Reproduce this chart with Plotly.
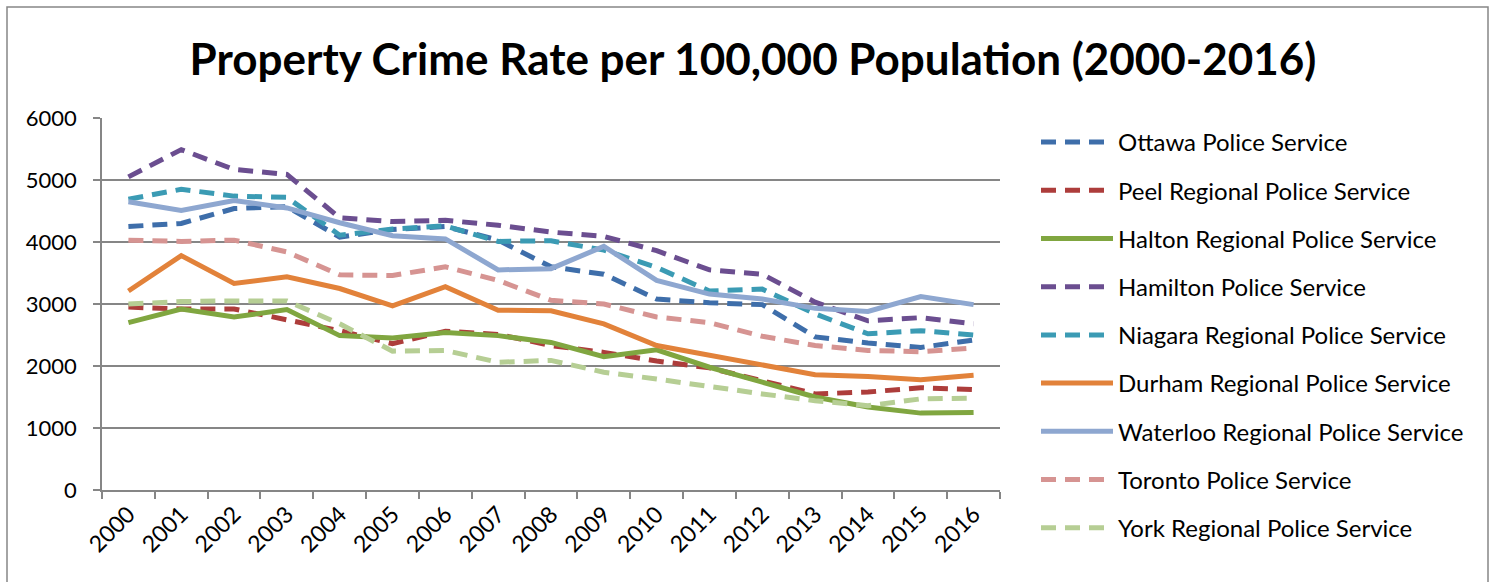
import plotly.graph_objects as go

years = [str(y) for y in range(2000, 2017)]

ottawa   = [4250, 4300, 4540, 4570, 4080, 4200, 4250, 4030, 3600, 3480, 3080, 3020, 2990, 2470, 2370, 2300, 2420]
peel     = [2950, 2920, 2920, 2740, 2570, 2360, 2560, 2510, 2330, 2220, 2080, 1970, 1770, 1550, 1580, 1650, 1620]
halton   = [2700, 2920, 2790, 2910, 2490, 2450, 2540, 2490, 2380, 2150, 2260, 1980, 1740, 1500, 1340, 1240, 1250]
hamilton = [5050, 5490, 5170, 5090, 4390, 4330, 4350, 4270, 4160, 4090, 3860, 3550, 3480, 3030, 2730, 2780, 2680]
niagara  = [4690, 4850, 4740, 4720, 4110, 4210, 4260, 4010, 4020, 3870, 3590, 3210, 3240, 2840, 2520, 2570, 2500]
durham   = [3210, 3780, 3330, 3440, 3250, 2970, 3280, 2900, 2890, 2680, 2330, 2170, 2010, 1860, 1830, 1780, 1850]
waterloo = [4650, 4510, 4670, 4550, 4310, 4100, 4050, 3550, 3570, 3930, 3380, 3160, 3080, 2930, 2880, 3120, 2990]
toronto  = [4030, 4010, 4030, 3840, 3470, 3460, 3600, 3380, 3060, 3000, 2790, 2700, 2480, 2330, 2250, 2230, 2290]
york     = [3000, 3040, 3050, 3050, 2680, 2240, 2250, 2060, 2090, 1900, 1790, 1660, 1550, 1440, 1360, 1470, 1480]

series_names = [
    "Ottawa Police Service", "Peel Regional Police Service", "Halton Regional Police Service",
    "Hamilton Police Service", "Niagara Regional Police Service", "Durham Regional Police Service",
    "Waterloo Regional Police Service", "Toronto Police Service", "York Regional Police Service",
]
series_values = [ottawa, peel, halton, hamilton, niagara, durham, waterloo, toronto, york]
colors = ["#3E6EAA", "#AD3D3B", "#80A640", "#6B4E90", "#3B9BB4", "#E2823A", "#8EA7D0", "#D69492", "#B6CE94"]
dashes = ["dash", "dash", "solid", "dash", "dash", "solid", "solid", "dash", "dash"]

FONT = "Lato"
W, H = 1495, 582
L, R, T, B = 102, 1000, 118, 490

fig = go.Figure()
for i, (name, vals, c, d) in enumerate(zip(series_names, series_values, colors, dashes)):
    fig.add_trace(go.Scatter(
        x=years, y=vals, name=name, mode="lines",
        line=dict(color=c, width=5, dash=("15px,9px" if d == "dash" else "solid")),
        legendgroup=f"g{i}",
    ))

def px2x(px):
    return (px - L) / (R - L)

def py2y(py):
    return (B - py) / (B - T)

fig.update_layout(
    width=W, height=H,
    margin=dict(l=L, r=W - R, t=T, b=H - B),
    paper_bgcolor="white", plot_bgcolor="white",
    font=dict(family=FONT, size=24, color="black"),
    title=dict(
        text="<b>Property Crime Rate per 100,000 Population (2000-2016)</b>",
        x=753 / W, xref="container", xanchor="center",
        y=1 - 60 / H, yref="container", yanchor="middle",
        font=dict(family=FONT, size=44, color="black"),
    ),
    showlegend=True,
    legend=dict(
        x=px2x(1036), xanchor="left", y=py2y(120), yanchor="top",
        font=dict(family=FONT, size=24, color="black"),
        tracegroupgap=14, itemwidth=72, maxheight=560,
        bgcolor="rgba(0,0,0,0)",
    ),
    xaxis=dict(
        type="category", tickangle=-45, tickson="boundaries",
        ticks="outside", ticklen=7, tickcolor="#868686", tickwidth=1.5,
        showline=True, linecolor="#868686", linewidth=1.5,
        showgrid=False, tickfont=dict(family=FONT, size=23, color="black"),
        range=[-0.5, 16.5],
    ),
    yaxis=dict(
        range=[0, 6000], dtick=1000, tick0=0,
        ticks="outside", ticklen=7, tickcolor="#868686", tickwidth=1.5,
        showline=True, linecolor="#868686", linewidth=1.5,
        showgrid=True, gridcolor="#868686", gridwidth=1.5,
        zeroline=False, tickfont=dict(family=FONT, size=22, color="black"),
        ticklabelstandoff=12,
    ),
    shapes=[dict(
        type="rect", xref="paper", yref="paper",
        x0=px2x(7), x1=px2x(1488), y0=py2y(7), y1=py2y(600),
        line=dict(color="#868686", width=1.5), fillcolor="rgba(0,0,0,0)", layer="below",
    )],
)

fig.write_html("out.html")
